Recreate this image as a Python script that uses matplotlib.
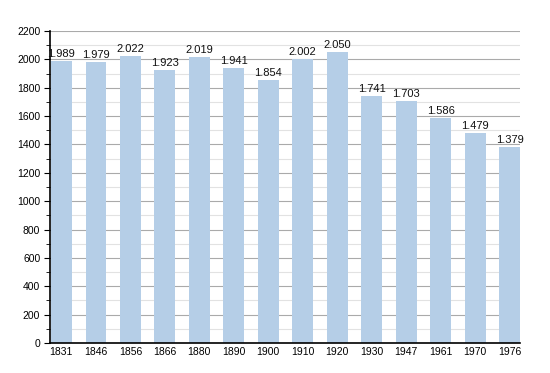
import matplotlib
matplotlib.use("Agg")
import matplotlib.pyplot as plt
import numpy as np
from matplotlib.ticker import MultipleLocator

years = ["1831", "1846", "1856", "1866", "1880", "1890", "1900",
         "1910", "1920", "1930", "1947", "1961", "1970", "1976"]
population = [1989, 1979, 2022, 1923, 2019, 1941, 1854,
              2002, 2050, 1741, 1703, 1586, 1479, 1379]

plt.rcParams['font.family'] = ['Liberation Sans', 'DejaVu Sans']

fig = plt.figure(figsize=(5.5, 3.73), dpi=100)
ax = fig.add_axes([50 / 550, 1 - 343 / 373, 470 / 550, 312 / 373])

x = np.arange(len(years))
ax.bar(x, population, width=0.6, color='#b5cee7', zorder=2)

for xi, v in zip(x, population):
    label = "{:,}".format(v).replace(",", ".")
    ax.text(xi, v + 15, label, ha='center', va='bottom', fontsize=8, color='#111111')

ax.set_xlim(-0.33, 13.3)
ax.set_ylim(0, 2200)
ax.yaxis.set_major_locator(MultipleLocator(200))
ax.yaxis.set_minor_locator(MultipleLocator(100))
ax.grid(axis='y', which='major', color='#aaaaaa', linewidth=0.8, zorder=0)
ax.grid(axis='y', which='minor', color='#e2e2e2', linewidth=0.8, zorder=0)

ax.set_xticks(x)
ax.set_xticklabels(years)
ax.tick_params(axis='x', length=0, labelsize=7.5, pad=3)
ax.tick_params(axis='y', which='major', length=4, labelsize=7.5, pad=3)
ax.tick_params(axis='y', which='minor', length=3)

for side in ['top', 'right']:
    ax.spines[side].set_visible(False)
ax.spines['left'].set_linewidth(1.2)
ax.spines['bottom'].set_linewidth(1.2)

fig.savefig("out.png", dpi=100)
